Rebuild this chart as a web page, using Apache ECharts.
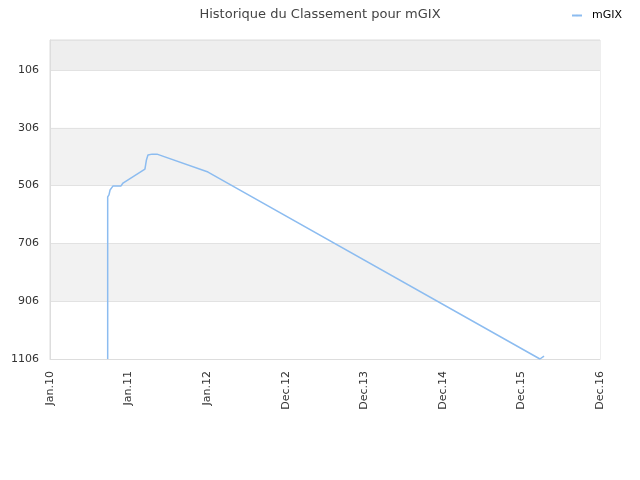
<!DOCTYPE html>
<html>
<head>
<meta charset="utf-8">
<script src="https://cdn.jsdelivr.net/npm/echarts@6/dist/echarts.min.js"></script>
<style>
  html, body { margin: 0; padding: 0; background: #fff; }
  #chart { width: 640px; height: 480px; }
</style>
</head>
<body>
<div id="chart"></div>
<script>
// relevés du classement (date, rang)
const dates = ['2010-09-26', '2010-09-26', '2010-10-02', '2010-10-07', '2010-10-21', '2010-11-08',
  '2010-11-27', '2010-12-01', '2010-12-06', '2011-03-18', '2011-03-25', '2011-04-01',
  '2011-04-20', '2011-05-13', '2012-01-05', '2016-03-26', '2016-04-14'];
const ranks = [1106, 545, 538, 521, 507, 507, 507, 511, 497, 449, 417, 400, 397, 397, 459, 1106, 1096];
const rankTicks = [106, 306, 506, 706, 906, 1106];
const dateTicks = ['2010-01-01', '2011-01-01', '2012-01-01', '2012-12-31', '2013-12-31',
  '2014-12-31', '2015-12-31', '2016-12-30'];

const months = ['Jan', 'Feb', 'Mar', 'Apr', 'May', 'Jun', 'Jul', 'Aug', 'Sep', 'Oct', 'Nov', 'Dec'];
const toTime = (s) => Date.parse(s + 'T00:00:00Z');
const xTicks = dateTicks.map(toTime);

const chart = echarts.init(document.getElementById('chart'));
const font = 'DejaVu Sans';

const option = {
  backgroundColor: '#fff',
  animation: false,
  title: {
    text: 'Historique du Classement pour mGIX',
    left: 'center',
    top: 3,
    textStyle: { fontFamily: font, fontSize: 13, fontWeight: 'normal', color: '#444' },
  },
  legend: {
    right: 13,
    top: 5,
    itemWidth: 10,
    itemHeight: 2,
    textStyle: { fontFamily: font, fontSize: 11, color: '#000', padding: [0, 0, 0, 5] },
    data: ['mGIX'],
  },
  grid: {
    left: 50,
    right: 40,
    top: 40,
    bottom: 121,
    show: true,
    borderColor: '#ddd',
    borderWidth: 1,
  },
  xAxis: {
    type: 'value',
    min: xTicks[0],
    max: xTicks[xTicks.length - 1],
    axisLine: { show: true, lineStyle: { color: '#ddd' } },
    axisTick: { show: false, customValues: xTicks },
    splitLine: { show: false },
    axisLabel: {
      customValues: xTicks,
      rotate: 90,
      margin: 12,
      fontFamily: font,
      fontSize: 11,
      color: '#333',
      formatter: (v) => {
        const d = new Date(v);
        return months[d.getUTCMonth()] + '.' + String(d.getUTCFullYear()).slice(2);
      },
    },
  },
  yAxis: {
    type: 'value',
    inverse: true,
    min: 2,
    max: 1106,
    axisLine: { show: true, lineStyle: { color: '#ddd' } },
    axisTick: { show: false, customValues: [2].concat(rankTicks) },
    axisLabel: {
      customValues: rankTicks,
      margin: 11,
      fontFamily: font,
      fontSize: 11,
      color: '#333',
      formatter: (v) => String(v),
    },
    splitLine: { show: true, lineStyle: { color: '#e2e2e2' } },
    splitArea: {
      show: true,
      areaStyle: { color: ['#eeeeee', '#ffffff', '#f2f2f2', '#ffffff', '#f2f2f2', '#ffffff'] },
    },
  },
  series: [
    {
      name: 'mGIX',
      type: 'line',
      symbol: 'none',
      color: '#8cbcf0',
      lineStyle: { width: 1.5 },
      data: dates.map((d, i) => [toTime(d), ranks[i]]),
    },
  ],
};

chart.setOption(option);
</script>
</body>
</html>
